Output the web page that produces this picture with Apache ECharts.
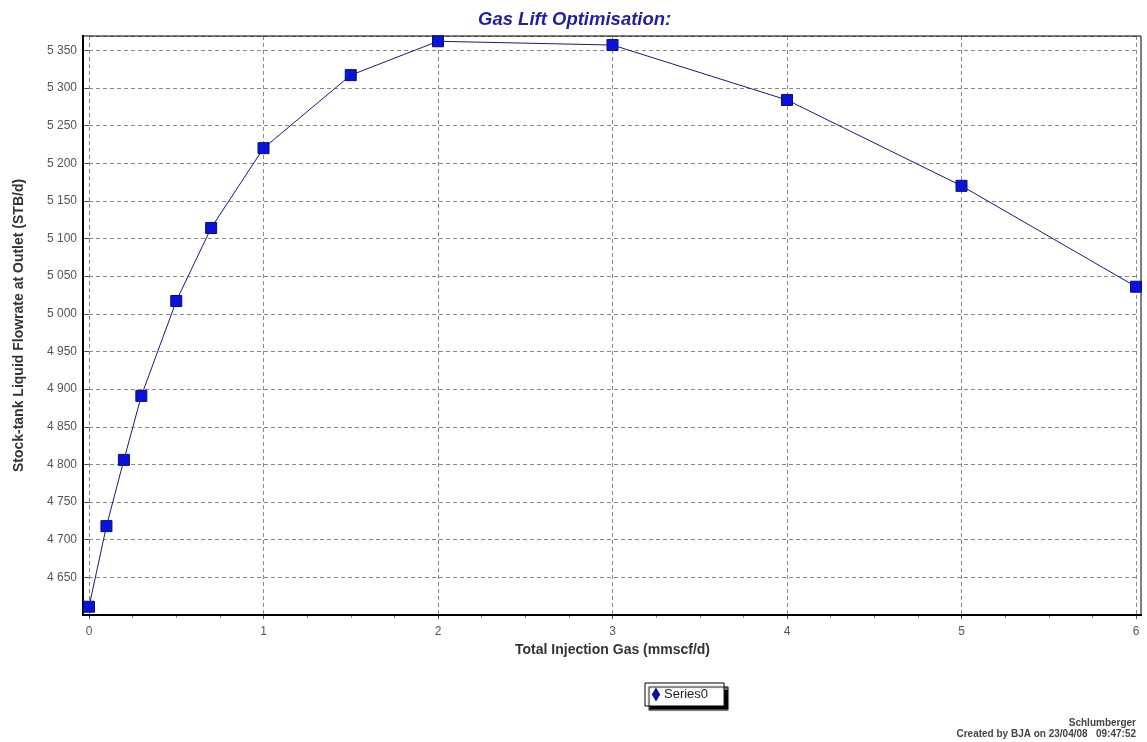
<!DOCTYPE html>
<html><head><meta charset="utf-8">
<script src="https://cdn.jsdelivr.net/npm/echarts@6/dist/echarts.min.js"></script>
<style>html,body{margin:0;padding:0;background:#fff}#c{width:1147px;height:742px}</style>
</head><body><div id="c"></div>
<script>
const gasInjection = [0, 0.1, 0.2, 0.3, 0.5, 0.7, 1.0, 1.5, 2, 3, 4, 5, 6];
const liquidRate = [4611, 4718, 4806, 4891, 5017, 5114, 5220, 5317, 5362, 5357, 5284, 5170, 5036];
const seriesName = 'Series0';
const titleText = 'Gas Lift Optimisation:';
const xAxisName = 'Total Injection Gas (mmscf/d)';
const yAxisName = 'Stock-tank Liquid Flowrate at Outlet (STB/d)';
const footerLines = ['Schlumberger', 'Created by BJA on 23/04/08   09:47:52'];

const chart = echarts.init(document.getElementById('c'));
const fmtY = v => {
  if (v < 4650 || v > 5350) return '';
  return Math.floor(v / 1000) + ' ' + String(v % 1000).padStart(3, '0');
};
chart.setOption({
  animation: false,
  backgroundColor: '#fff',
  title: {
    text: titleText, left: 473, top: 5,
    textStyle: { fontFamily: 'Liberation Sans', fontStyle: 'italic', fontWeight: 'bold', fontSize: 18.5, color: '#1f1fa0' }
  },
  grid: { left: 89, right: 11, top: 36, bottom: 127, outerBoundsMode: 'none', containLabel: false },
  xAxis: {
    type: 'value', min: 0, max: 6, interval: 1,
    name: xAxisName, nameLocation: 'middle', nameGap: 27,
    nameTextStyle: { fontFamily: 'Liberation Sans', fontWeight: 'bold', fontSize: 14, color: '#333' },
    axisLine: { show: false },
    axisTick: { show: true, length: 4, lineStyle: { color: '#555' } },
    minorTick: { show: true, splitNumber: 4, length: 3, lineStyle: { color: '#888' } },
    axisLabel: { fontFamily: 'Liberation Sans', fontSize: 12, color: '#555', margin: 11 },
    splitLine: { show: true, lineStyle: { type: [4, 3], color: '#888', width: 1 } }
  },
  yAxis: {
    type: 'value', min: 4600, max: 5369, interval: 50, offset: 6,
    name: yAxisName, nameLocation: 'middle', nameGap: 57,
    nameTextStyle: { fontFamily: 'Liberation Sans', fontWeight: 'bold', fontSize: 14, color: '#333' },
    axisLine: { show: false },
    axisTick: { show: true, length: 6, lineStyle: { color: '#555' } },
    axisLabel: { fontFamily: 'Liberation Sans', fontSize: 12, color: '#555', margin: 6, formatter: fmtY, showMaxLabel: false, showMinLabel: false },
    splitLine: { show: true, lineStyle: { type: [4, 3], color: '#888', width: 1 } }
  },
  legend: {
    data: [{ name: seriesName, icon: 'diamond' }],
    left: 645, top: 683,
    itemWidth: 6, itemHeight: 10, itemGap: 4,
    padding: [5, 16, 5, 7],
    backgroundColor: '#fff', borderColor: '#000', borderWidth: 1,
    shadowColor: '#000', shadowBlur: 1, shadowOffsetX: 4, shadowOffsetY: 4,
    textStyle: { fontFamily: 'Liberation Sans', fontSize: 13, color: '#222' }
  },
  graphic: [
    { type: 'rect', shape: { x: 83, y: 36, width: 1058, height: 579 }, style: { fill: 'none', stroke: '#000', lineWidth: 1 }, z: 10 },
    { type: 'line', shape: { x1: 83, y1: 35, x2: 83, y2: 616 }, style: { stroke: '#000', lineWidth: 2 }, z: 10 },
    { type: 'line', shape: { x1: 82, y1: 615, x2: 1142, y2: 615 }, style: { stroke: '#000', lineWidth: 2 }, z: 10 },
    { type: 'text', right: 11, top: 718, style: { text: footerLines[0], font: 'bold 10px Liberation Sans', fill: '#444', textAlign: 'right' } },
    { type: 'text', right: 11, top: 729, style: { text: footerLines[1], font: 'bold 10px Liberation Sans', fill: '#444', textAlign: 'right' } }
  ],
  series: [{
    name: seriesName, type: 'line',
    data: gasInjection.map((x, i) => [x, liquidRate[i]]),
    symbol: 'rect', symbolSize: 11,
    lineStyle: { color: '#1a1a70', width: 1 },
    itemStyle: { color: '#0a14d8', borderColor: '#0a0a80', borderWidth: 1 },
    z: 20
  }]
});
</script></body></html>
